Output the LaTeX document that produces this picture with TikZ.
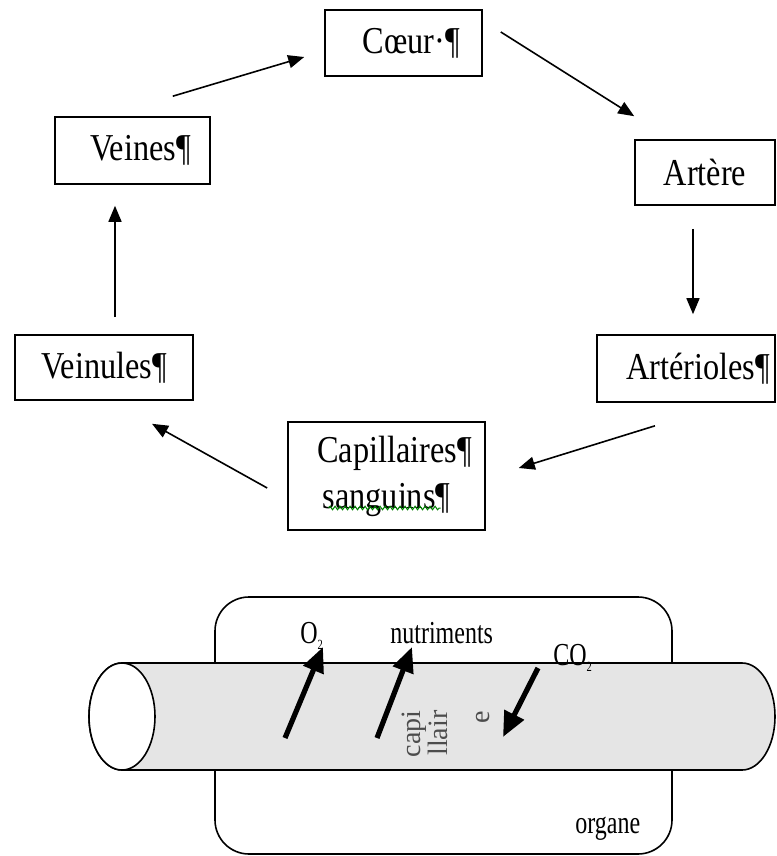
\documentclass[tikz,border=0pt]{standalone}
\usepackage{fontspec}
\setmainfont{Liberation Serif}
\newfontfamily\boxfont[FakeStretch=0.85]{Liberation Serif}
\newfontfamily\labelfont[FakeStretch=0.75]{Liberation Serif}
\usepackage{tikz}
\usetikzlibrary{arrows.meta,calc,positioning,decorations.pathmorphing}
\newcommand{\indice}[1]{\raisebox{-3pt}{\fontsize{7}{7}\selectfont #1}}
\tikzset{
etape/.style={draw,line width=0.8pt,font=\boxfont\fontsize{19}{23}\selectfont,inner sep=0pt,align=center},
fleche/.style={line width=0.8pt,-{Triangle[length=8pt,width=6.5pt]}},
flux/.style={line width=2.6pt,-{Triangle[length=12.5pt,width=10.5pt]}},
legende/.style={font=\labelfont\fontsize{16}{18}\selectfont,inner sep=0pt,anchor=base west}
}
\begin{document}
\begin{tikzpicture}[x=0.5pt,y=-0.5pt]
\useasboundingbox (0,0) rectangle (776,856);
\node[etape,minimum width=78.5pt,minimum height=33pt] (coeur) at (403.5,43) {\hspace*{8pt}Cœur·¶};
\node[etape,minimum width=77.5pt,minimum height=33.5pt] (veines) at (132.5,150.5) {\hspace*{8pt}Veines¶};
\node[etape,minimum width=70pt,minimum height=32.5pt] (artere) at (705,172.5) {Artère};
\node[etape,minimum width=89pt,minimum height=33.5pt] (arterioles) at (686,368.5) {\hspace*{12pt}Artérioles¶};
\node[etape,minimum width=89pt,minimum height=32.5pt] (veinules) at (104,367.5) {Veinules¶};
\node[etape,minimum width=98.5pt,minimum height=54pt] (capillaires) at (386.5,476) {\hspace*{8pt}Capillaires¶\\sanguins¶};
\draw[green!50!black,line width=0.5pt,decorate,decoration={snake,amplitude=0.9pt,segment length=2.5pt}] ($(capillaires.center)+(-58,32)$) -- ($(capillaires.center)+(54,32)$);
\draw[fleche] ($(veines.north east)+(-38,-20)$) -- ($(coeur.west)+(-20,14)$);
\draw[fleche] ($(coeur.east)+(18,-11)$) -- ($(artere.north west)+(0,-23)$);
\draw[fleche] ($(artere.south)+(-12,23)$) -- ($(arterioles.north)+(7,-20)$);
\draw[fleche] ($(arterioles.south)+(-31,23)$) -- ($(capillaires.east)+(33,-8)$);
\draw[fleche] ($(capillaires.west)+(-20,12)$) -- ($(veinules.south)+(48,23)$);
\draw[fleche] ($(veinules.north)+(11,-17)$) -- ($(veines.south)+(-17.5,21)$);
\draw[line width=0.8pt,rounded corners=17pt] (215,597) rectangle (672,854);
\draw[line width=0.8pt,fill=black!10] (122,663) -- (742,663) arc[start angle=90,end angle=-90,x radius=16.5pt,y radius=26.75pt] -- (122,770) arc[start angle=270,end angle=90,x radius=16.5pt,y radius=26.75pt] -- cycle;
\draw[line width=0.8pt,fill=white] (122,716.5) ellipse[x radius=16.5pt,y radius=26.75pt];
\node[legende] (o2) at (300,643) {O\indice{2}};
\node[legende] (nutriments) at (390,643) {nutriments};
\node[legende] (co2) at (553,665) {CO\indice{2}};
\node[legende] (organe) at (575,833) {organe};
\node[font=\fontsize{14}{9}\selectfont,text=black!70,rotate=90,align=right,inner sep=0pt] (capillaire) at (446,734) {capi\\llair\\[12pt]e};
\draw[flux] (285,738) -- (323,647);
\draw[flux] (377,738) -- (412,647);
\draw[flux] (538,668) -- (503,737);
\end{tikzpicture}
\end{document}
